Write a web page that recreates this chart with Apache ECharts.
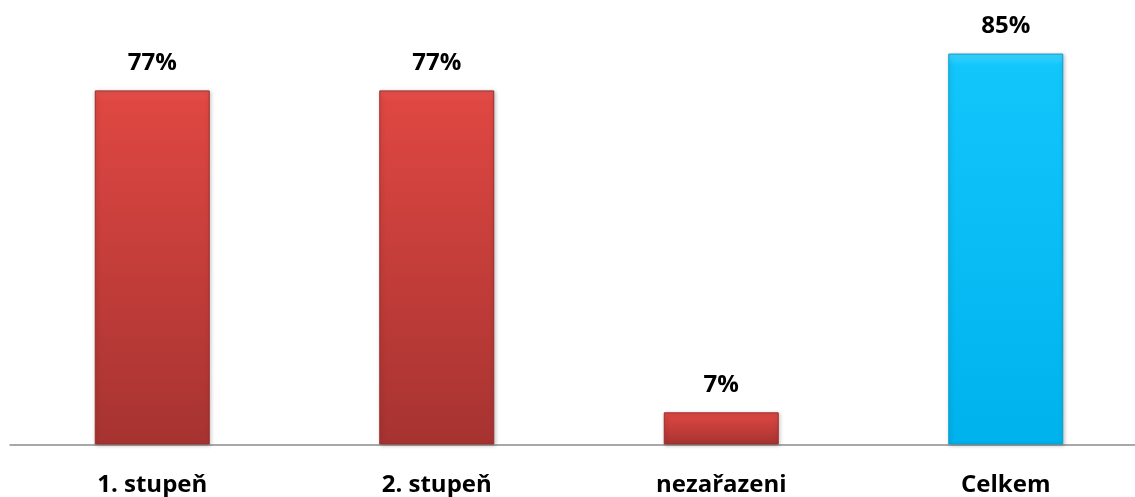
<!DOCTYPE html>
<html>
<head>
<meta charset="utf-8">
<script src="https://cdn.jsdelivr.net/npm/echarts@6/dist/echarts.min.js"></script>
<style>
html,body{margin:0;padding:0;background:#fff;}
#chart{width:1135px;height:497px;}
</style>
</head>
<body>
<div id="chart"></div>
<script>
const categories = ['1. stupeň', '2. stupeň', 'nezařazeni', 'Celkem'];
const values = [77, 77, 7, 85];
const barKinds = ['red', 'red', 'red', 'blue'];

const palettes = {
  red: {
    fill: new echarts.graphic.LinearGradient(0, 0, 0, 1, [
      {offset: 0, color: '#e6524d'},
      {offset: 0.03, color: '#df4742'},
      {offset: 1, color: '#a63331'}
    ]),
    border: '#9a2e2b'
  },
  blue: {
    fill: new echarts.graphic.LinearGradient(0, 0, 0, 1, [
      {offset: 0, color: '#3fd6ff'},
      {offset: 0.03, color: '#12c6fc'},
      {offset: 1, color: '#00b2ec'}
    ]),
    border: '#0a9fd0'
  }
};

const chart = echarts.init(document.getElementById('chart'));
chart.setOption({
  animation: false,
  grid: {left: 10, width: 1138, top: 3, bottom: 52.5, containLabel: false, outerBoundsMode: 'none'},
  xAxis: {
    type: 'category',
    data: categories,
    axisTick: {show: false},
    axisLine: {lineStyle: {color: '#8c8c8c', width: 1.5}},
    axisLabel: {
      margin: 29,
      fontFamily: 'Open Sans',
      fontWeight: 'bold',
      fontSize: 24,
      color: '#000'
    }
  },
  yAxis: {
    type: 'value',
    min: 0,
    max: 96,
    show: false,
    splitLine: {show: false}
  },
  series: [{
    type: 'bar',
    barWidth: 115,
    data: values.map((v, i) => ({
      value: v,
      itemStyle: {
        color: palettes[barKinds[i]].fill,
        borderColor: palettes[barKinds[i]].border,
        borderWidth: 1,
        shadowColor: 'rgba(0,0,0,0.25)',
        shadowBlur: 4,
        shadowOffsetX: 1,
        shadowOffsetY: 1
      }
    })),
    label: {
      show: true,
      position: 'top',
      distance: 15,
      formatter: p => p.value + '%',
      fontFamily: 'Open Sans',
      fontWeight: 'bold',
      fontSize: 24,
      color: '#000'
    }
  }]
});
</script>
</body>
</html>
